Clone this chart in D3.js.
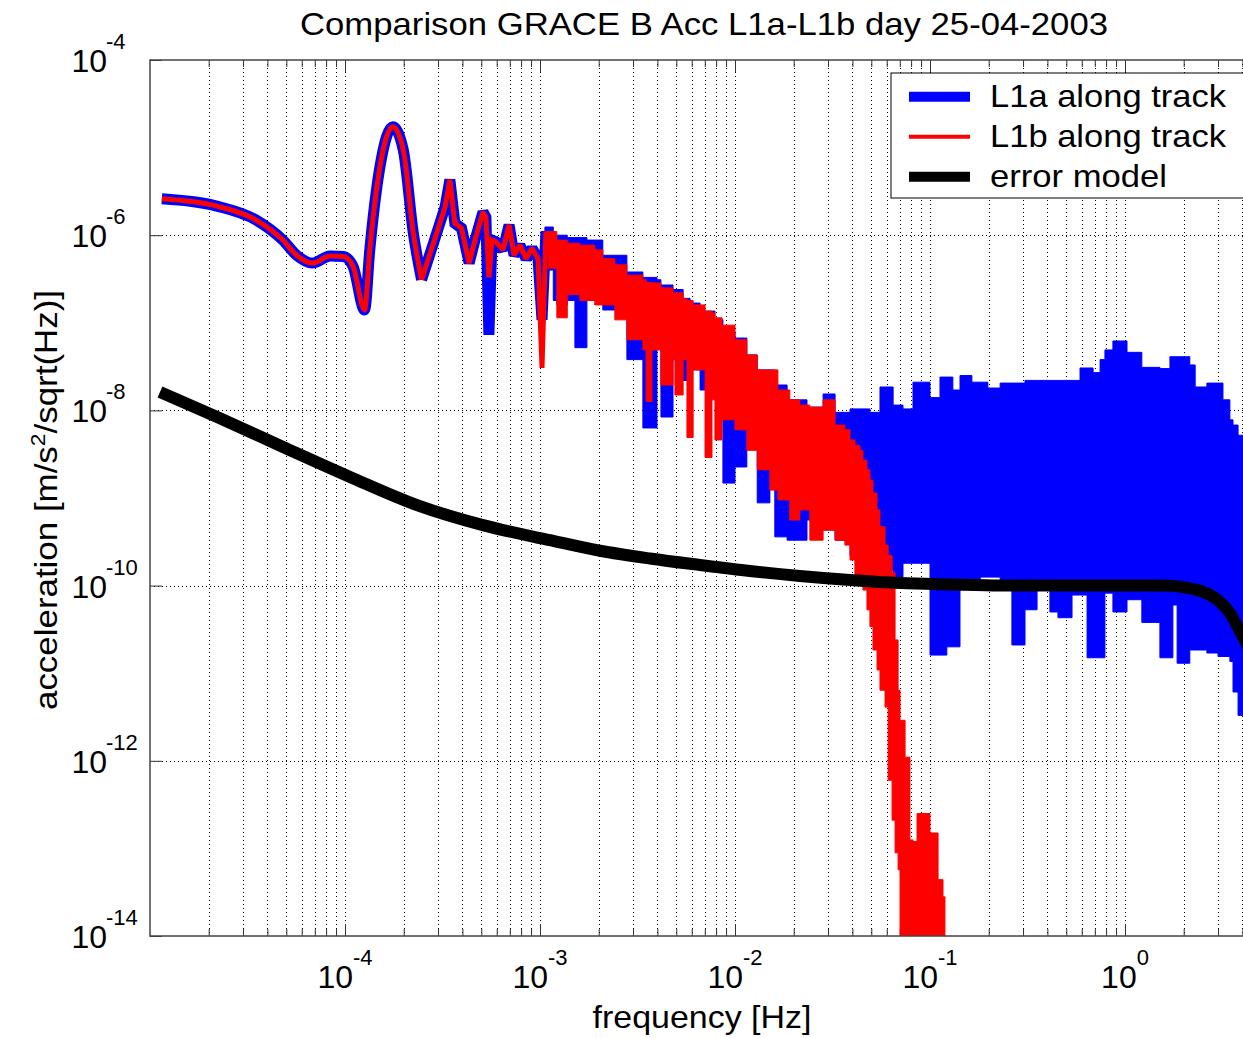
<!DOCTYPE html>
<html><head><meta charset="utf-8">
<script src="https://cdn.jsdelivr.net/npm/d3@7"></script>
<style>
body{margin:0;background:#fff}
svg{display:block}
text{font-family:"Liberation Sans",Arial,Helvetica,sans-serif;fill:#000}
</style>
</head><body>
<svg id="chart" width="1243" height="1038"></svg>
<script>
// ---------- text ----------
const titleText = "Comparison GRACE B Acc L1a-L1b day 25-04-2003";
const xLabelText = "frequency [Hz]";
const yTickExponents = [-4, -6, -8, -10, -12, -14];
const xTickExponents = [-4, -3, -2, -1, 0];
const legendLabels = ["L1a along track", "L1b along track", "error model"];

// ---------- L1a (blue) : low-frequency line part ----------
const l1aLineFreq = [1.15e-5, 2.2e-5, 3.5e-5, 4.8e-5, 5.65e-5, 6.8e-5, 8.4e-5, 9.8e-5, 1.1e-4, 1.26e-4,
  1.34e-4, 1.51e-4, 1.76e-4, 1.99e-4, 2.24e-4, 2.47e-4, 2.95e-4, 3.26e-4, 3.45e-4, 3.66e-4,
  3.96e-4, 4.33e-4, 4.64e-4, 5.1e-4, 5.28e-4, 5.47e-4, 5.67e-4, 5.94e-4, 6.46e-4, 6.94e-4,
  7.36e-4, 7.89e-4, 8.48e-4, 9.1e-4, 9.77e-4, 1.024e-3, 1.073e-3, 1.125e-3];
const l1aLineVal = [2.6e-6, 2.15e-6, 1.49e-6, 8.8e-7, 5.9e-7, 4.8e-7, 5.8e-7, 5.7e-7, 4.4e-7, 1.4e-7,
  6.8e-7, 6.0e-6, 1.73e-5, 9.4e-6, 1.06e-6, 3.1e-7, 1.05e-6, 2.1e-6, 4.3e-6, 1.37e-6,
  1.2e-6, 4.8e-7, 8.8e-7, 1.84e-6, 1.6e-6, 7.3e-8, 8.8e-7, 8.4e-7, 6.8e-7, 1.31e-6,
  5.9e-7, 7.7e-7, 5.4e-7, 7.1e-7, 5.4e-7, 1.08e-7, 1.1e-6, 7.7e-7];

// ---------- L1a (blue) : dense part, upper / lower envelope ----------
const l1aBandFreq = [1.06e-3, 1.17e-3, 1.22e-3, 1.38e-3, 1.51e-3, 1.74e-3, 2.1e-3, 2.79e-3, 3.37e-3, 3.98e-3,
  4.17e-3, 4.81e-3, 5.42e-3, 5.88e-3, 6.62e-3, 7.89e-3, 8.67e-3, 1.0e-2, 1.15e-2, 1.3e-2,
  1.51e-2, 1.6e-2, 1.85e-2, 2.34e-2, 2.83e-2, 3.26e-2, 3.89e-2, 4.92e-2, 5.54e-2, 6.47e-2,
  7.27e-2, 8.18e-2, 0.1, 0.1125, 0.122, 0.131, 0.1425, 0.164, 0.181, 0.198,
  0.229, 0.263, 0.307, 0.354, 0.412, 0.453, 0.535, 0.588, 0.639, 0.686,
  0.745, 0.789, 0.867, 1.024, 1.22, 1.51, 1.70, 1.76, 1.85, 2.15,
  2.29, 2.63, 3.0, 3.18, 3.45, 3.58, 3.80, 5.0];
const l1aBandHi = [1.24e-6, 8.8e-7, 1.0e-6, 9.4e-7, 9.4e-7, 8.8e-7, 5.9e-7, 3.8e-7, 3.3e-7, 3.1e-7,
  2.7e-7, 2.4e-7, 1.9e-7, 1.68e-7, 1.36e-7, 1.08e-7, 7.9e-8, 6.7e-8, 4.3e-8, 2.9e-8,
  2.9e-8, 1.95e-8, 1.32e-8, 1.09e-8, 1.54e-8, 9.5e-9, 1.04e-8, 9.5e-9, 1.85e-8, 1.15e-8,
  1.04e-8, 2.1e-8, 1.4e-8, 2.4e-8, 2.4e-8, 1.71e-8, 2.5e-8, 2.1e-8, 2.1e-8, 1.8e-8,
  2.05e-8, 2.05e-8, 2.2e-8, 2.2e-8, 2.2e-8, 2.2e-8, 2.2e-8, 3.05e-8, 3.05e-8, 2.7e-8,
  3.8e-8, 4.9e-8, 6.2e-8, 4.6e-8, 3.1e-8, 3.0e-8, 4.1e-8, 4.1e-8, 4.1e-8, 3.3e-8,
  1.85e-8, 2.05e-8, 2.05e-8, 1.32e-8, 7.8e-9, 6.8e-9, 5.2e-9, 4.6e-9];
const l1aBandLo = [4.0e-7, 1.8e-7, 1.6e-7, 1.8e-7, 5.2e-8, 1.8e-7, 1.4e-7, 3.8e-8, 6.3e-9, 5.6e-8,
  8.4e-9, 3.8e-8, 2.2e-8, 2.9e-8, 1.71e-8, 1.32e-8, 1.48e-9, 2.26e-9, 4.6e-9, 8.8e-10,
  2.1e-9, 3.6e-10, 3.3e-10, 5.6e-10, 4.3e-10, 3.3e-10, 2.2e-10, 1.72e-10, 1.5e-10, 1.25e-10,
  1.8e-10, 1.8e-10, 1.61e-11, 1.61e-11, 2.0e-11, 2.0e-11, 9.5e-11, 9.5e-11, 1.25e-10, 1.25e-10,
  1.16e-10, 2.1e-11, 5.3e-11, 1.16e-10, 5.0e-11, 4.3e-11, 7.8e-11, 7.8e-11, 1.5e-11, 1.5e-11,
  1.5e-11, 8.2e-11, 5.0e-11, 6.9e-11, 3.8e-11, 1.5e-11, 1.5e-11, 6.0e-11, 1.3e-11, 1.84e-11,
  1.84e-11, 1.7e-11, 1.55e-11, 1.55e-11, 1.36e-11, 6.1e-12, 3.3e-12, 3.0e-12];

// ---------- L1b (red) : low-frequency line part ----------
const l1bLineFreq = [1.15e-5, 2.2e-5, 3.5e-5, 4.8e-5, 5.65e-5, 6.8e-5, 8.4e-5, 9.8e-5, 1.1e-4, 1.26e-4,
  1.34e-4, 1.51e-4, 1.76e-4, 1.99e-4, 2.24e-4, 2.47e-4, 2.95e-4, 3.26e-4, 3.45e-4, 3.66e-4,
  3.96e-4, 4.33e-4, 4.64e-4, 5.1e-4, 5.28e-4, 5.47e-4, 5.67e-4, 5.94e-4, 6.46e-4, 6.94e-4,
  7.36e-4, 7.89e-4, 8.48e-4, 9.1e-4, 9.77e-4, 1.024e-3, 1.073e-3, 1.125e-3];
const l1bLineVal = [2.6e-6, 2.15e-6, 1.49e-6, 8.8e-7, 5.9e-7, 4.8e-7, 5.8e-7, 5.7e-7, 4.4e-7, 1.4e-7,
  6.8e-7, 6.0e-6, 1.73e-5, 9.4e-6, 1.06e-6, 3.1e-7, 1.05e-6, 2.1e-6, 4.3e-6, 1.37e-6,
  1.2e-6, 4.8e-7, 8.8e-7, 1.84e-6, 1.6e-6, 3.3e-7, 8.8e-7, 8.4e-7, 6.8e-7, 1.31e-6,
  5.9e-7, 7.7e-7, 5.4e-7, 7.1e-7, 5.4e-7, 3.05e-8, 1.1e-6, 7.7e-7];

// ---------- L1b (red) : dense part, upper / lower envelope ----------
const l1bBandFreq = [1.1e-3, 1.22e-3, 1.38e-3, 1.6e-3, 1.91e-3, 2.1e-3, 2.42e-3, 2.79e-3, 3.37e-3, 3.5e-3,
  3.75e-3, 4.17e-3, 4.81e-3, 4.92e-3, 5.42e-3, 5.67e-3, 6.1e-3, 7.02e-3, 7.62e-3, 7.89e-3,
  8.58e-3, 1.0e-2, 1.15e-2, 1.3e-2, 1.51e-2, 1.66e-2, 1.91e-2, 2.15e-2, 2.42e-2, 2.83e-2,
  3.26e-2, 3.66e-2, 3.89e-2, 4.12e-2, 4.37e-2, 4.53e-2, 4.75e-2, 4.92e-2, 5.1e-2, 5.35e-2,
  5.54e-2, 5.88e-2, 6.1e-2, 6.39e-2, 6.62e-2, 6.86e-2, 7.02e-2, 7.45e-2, 7.89e-2, 8.18e-2,
  8.58e-2, 9.42e-2, 0.1, 0.1086, 0.110, 0.1166, 0.1193];
const l1bBandHi = [1.1e-6, 8.8e-7, 8.1e-7, 7.7e-7, 6.8e-7, 5.4e-7, 4.6e-7, 3.5e-7, 3.1e-7, 2.9e-7,
  2.85e-7, 2.5e-7, 2.2e-7, 2.2e-7, 1.9e-7, 1.8e-7, 1.6e-7, 1.36e-7, 1.3e-7, 1.14e-7,
  9.4e-8, 6.4e-8, 4.3e-8, 2.9e-8, 2.9e-8, 1.71e-8, 1.32e-8, 1.15e-8, 1.09e-8, 1.32e-8,
  6.8e-9, 6.0e-9, 4.6e-9, 4.0e-9, 3.5e-9, 2.7e-9, 2.1e-9, 1.6e-9, 1.14e-9, 7.3e-10,
  4.7e-10, 2.9e-10, 2.2e-10, 1.4e-10, 2.4e-11, 6.4e-12, 2.9e-12, 1.1e-12, 1.25e-13, 1.2e-13,
  2.5e-13, 2.5e-13, 1.5e-13, 1.5e-13, 4.4e-14, 2.8e-14, 1e-15];
const l1bBandLo = [4.2e-7, 1.14e-7, 2.1e-7, 1.8e-7, 1.6e-7, 1.6e-7, 1.08e-7, 6.4e-8, 4.9e-8, 1.26e-8,
  4.9e-8, 1.95e-8, 3.8e-8, 1.5e-8, 3.8e-8, 4.9e-9, 2.9e-8, 2.9e-9, 1.32e-8, 4.6e-9,
  7.8e-9, 6.0e-9, 3.5e-9, 2.1e-9, 1.23e-9, 9.5e-10, 5.6e-10, 7.3e-10, 3.3e-10, 4.3e-10,
  3.3e-10, 2.9e-10, 1.96e-10, 1.32e-10, 1.0e-10, 8.9e-11, 5.3e-11, 3.4e-11, 1.84e-11, 1.09e-11,
  6.4e-12, 4.1e-12, 6.0e-13, 2.1e-13, 8.9e-14, 5.7e-14, 1e-15, 1e-15, 1e-15, 1e-15,
  1e-15, 1e-15, 1e-15, 1e-15, 1e-15, 1e-15, 1e-15];

// ---------- error model (black) ----------
const errFreq = [1.125e-5, 2.21e-5, 4.81e-5, 1.06e-4, 2.34e-4, 5.1e-4, 1.125e-3, 2.03e-3, 3.66e-3, 6.62e-3,
  1.19e-2, 2.15e-2, 3.89e-2, 7.02e-2, 0.1266, 0.229, 0.745, 1.566, 1.98, 2.34,
  2.73, 3.07, 3.45, 3.75, 4.03, 5];
const errVal = [1.62e-8, 8.4e-9, 3.82e-9, 1.74e-9, 8.3e-10, 4.9e-10, 3.3e-10, 2.5e-10, 2.04e-10, 1.72e-10,
  1.47e-10, 1.29e-10, 1.16e-10, 1.07e-10, 1.03e-10, 1.0e-10, 1.0e-10, 1.0e-10, 9.6e-11, 8.9e-11,
  7.8e-11, 6.5e-11, 4.9e-11, 3.5e-11, 2.6e-11, 1.0e-11];

// ---------- layout ----------
const plotL = 150, plotT = 60, plotB = 936, pxPerDecadeX = 195;
const xMin = 1e-5, xMax = 5, yMin = 1e-14, yMax = 1e-4;
const plotR = plotL + pxPerDecadeX * Math.log10(xMax / xMin);
const smoothEnd = 15; // the line is smooth up to this sample, jagged afterwards

const svg = d3.select("#chart");
const x = d3.scaleLog().domain([xMin, xMax]).range([plotL, plotR]);
const y = d3.scaleLog().domain([yMin, yMax]).range([plotB, plotT]);

svg.append("rect").attr("width", 1243).attr("height", 1038).attr("fill", "#fff");

// grid
const gridG = svg.append("g").attr("shape-rendering", "crispEdges");
const xGridVals = [];
for (let e = -5; e <= 0; e++) for (let m = 1; m <= 9; m++) {
  const v = m * Math.pow(10, e);
  if (v > xMin * 1.001 && v <= xMax * 1.001) xGridVals.push(v);
}
gridG.selectAll("line.vg").data(xGridVals).join("line")
  .attr("x1", d => Math.round(x(d)) + 0.5).attr("x2", d => Math.round(x(d)) + 0.5).attr("y1", plotT).attr("y2", plotB)
  .attr("stroke", "#000").attr("stroke-width", 1).attr("stroke-dasharray", "1,3");
gridG.selectAll("line.hg").data(yTickExponents.slice(1, -1)).join("line")
  .attr("x1", plotL).attr("x2", plotR)
  .attr("y1", d => Math.round(y(Math.pow(10, d))) + 0.5).attr("y2", d => Math.round(y(Math.pow(10, d))) + 0.5)
  .attr("stroke", "#000").attr("stroke-width", 1).attr("stroke-dasharray", "1,3");

// axes (ticks inward)
const majorX = xTickExponents.map(e => Math.pow(10, e));
const minorX = xGridVals.filter(v => !majorX.some(m => Math.abs(m - v) / m < 1e-6));
svg.append("g").attr("transform", `translate(0,${plotB})`)
  .call(d3.axisBottom(x).tickValues(minorX).tickSize(-7).tickFormat("").tickSizeOuter(0))
  .call(g => g.select(".domain").remove());
svg.append("g").attr("transform", `translate(0,${plotB})`)
  .call(d3.axisBottom(x).tickValues(majorX).tickSize(-12).tickFormat("").tickSizeOuter(0))
  .call(g => g.select(".domain").remove());
svg.append("g").attr("transform", `translate(0,${plotT})`)
  .call(d3.axisTop(x).tickValues(minorX).tickSize(-7).tickFormat("").tickSizeOuter(0))
  .call(g => g.select(".domain").remove());
svg.append("g").attr("transform", `translate(0,${plotT})`)
  .call(d3.axisTop(x).tickValues(majorX).tickSize(-12).tickFormat("").tickSizeOuter(0))
  .call(g => g.select(".domain").remove());
svg.append("g").attr("transform", `translate(${plotL},0)`)
  .call(d3.axisLeft(y).tickValues(yTickExponents.map(e => Math.pow(10, e))).tickSize(-12).tickFormat("").tickSizeOuter(0))
  .call(g => g.select(".domain").remove());
svg.selectAll(".tick line").attr("stroke", "#333");

// data
svg.append("clipPath").attr("id", "plotclip").append("rect")
  .attr("x", plotL).attr("y", plotT).attr("width", plotR - plotL).attr("height", plotB - plotT);
const dataG = svg.append("g").attr("clip-path", "url(#plotclip)");

const zip2 = (f, v) => f.map((d, i) => ({ f: d, v: v[i] }));
const zip3 = (f, hi, lo) => f.map((d, i) => ({ f: d, hi: hi[i], lo: lo[i] }));
const smoothLine = d3.line().x(d => x(d.f)).y(d => y(d.v)).curve(d3.curveMonotoneX);
const sharpLine = d3.line().x(d => x(d.f)).y(d => y(d.v)).curve(d3.curveLinear);
const band = d3.area().x(d => x(d.f)).y0(d => y(d.lo)).y1(d => y(d.hi)).curve(d3.curveStepAfter);

function drawSeriesLine(freq, val, color, w) {
  const pts = zip2(freq, val);
  dataG.append("path").datum(pts.slice(0, smoothEnd + 1)).attr("d", smoothLine)
    .attr("fill", "none").attr("stroke", color).attr("stroke-width", w).attr("stroke-linejoin", "round");
  dataG.append("path").datum(pts.slice(smoothEnd)).attr("d", sharpLine)
    .attr("fill", "none").attr("stroke", color).attr("stroke-width", w)
    .attr("stroke-linejoin", "miter").attr("stroke-miterlimit", 2);
}

const BLUE = "#0000ff", RED = "#ff0000";
drawSeriesLine(l1aLineFreq, l1aLineVal, BLUE, 11);
dataG.append("path").datum(zip3(l1aBandFreq, l1aBandHi, l1aBandLo)).attr("d", band)
  .attr("fill", BLUE).attr("stroke", BLUE).attr("stroke-width", 1);
drawSeriesLine(l1bLineFreq, l1bLineVal, RED, 5);
dataG.append("path").datum(zip3(l1bBandFreq, l1bBandHi, l1bBandLo)).attr("d", band)
  .attr("fill", RED).attr("stroke", RED).attr("stroke-width", 1);
dataG.append("path").datum(zip2(errFreq, errVal)).attr("d", smoothLine)
  .attr("fill", "none").attr("stroke", "#000").attr("stroke-width", 12);

// frame
svg.append("rect").attr("x", plotL).attr("y", plotT).attr("width", plotR - plotL).attr("height", plotB - plotT)
  .attr("fill", "none").attr("stroke", "#444").attr("stroke-width", 1.5);

// tick labels
const tl = svg.append("g");
xTickExponents.forEach(e => {
  const t = tl.append("text").attr("x", x(Math.pow(10, e))).attr("y", plotB + 52)
    .attr("text-anchor", "middle").attr("font-size", 32);
  t.append("tspan").text("10");
  t.append("tspan").attr("dy", -23).attr("font-size", 22).text(String(e));
});
yTickExponents.forEach(e => {
  const ty = y(Math.pow(10, e));
  tl.append("text").attr("x", 107).attr("y", ty + 12).attr("text-anchor", "end")
    .attr("font-size", 32).text("10");
  tl.append("text").attr("x", 106).attr("y", ty - 11).attr("text-anchor", "start")
    .attr("font-size", 22).text(String(e));
});

// title & axis labels
svg.append("text").attr("x", 704).attr("y", 35).attr("text-anchor", "middle")
  .attr("font-size", 32).attr("textLength", 808).attr("lengthAdjust", "spacingAndGlyphs").text(titleText);
svg.append("text").attr("x", 702).attr("y", 1028).attr("text-anchor", "middle")
  .attr("font-size", 32).attr("textLength", 219).attr("lengthAdjust", "spacingAndGlyphs").text(xLabelText);
const yl = svg.append("text").attr("transform", "translate(57,500) rotate(-90)").attr("text-anchor", "middle")
  .attr("font-size", 32).attr("textLength", 420).attr("lengthAdjust", "spacingAndGlyphs");
yl.append("tspan").text("acceleration [m/s");
yl.append("tspan").attr("dy", -12).attr("font-size", 21).text("2");
yl.append("tspan").attr("dy", 12).text("/sqrt(Hz)]");

// legend
const lg = svg.append("g");
lg.append("rect").attr("x", 891).attr("y", 73).attr("width", 366).attr("height", 125)
  .attr("fill", "#fff").attr("stroke", "#000").attr("stroke-width", 1);
const legendColors = [BLUE, RED, "#000"];
const legendWidths = [10, 4, 10];
const legendTextLen = [236, 236, 177];
legendLabels.forEach((lab, i) => {
  const cy = 96.7 + i * 40;
  lg.append("line").attr("x1", 909).attr("x2", 970).attr("y1", cy).attr("y2", cy)
    .attr("stroke", legendColors[i]).attr("stroke-width", legendWidths[i]);
  lg.append("text").attr("x", 990).attr("y", cy + 10.6).attr("font-size", 32)
    .attr("textLength", legendTextLen[i]).attr("lengthAdjust", "spacingAndGlyphs").text(lab);
});
</script>
</body></html>
